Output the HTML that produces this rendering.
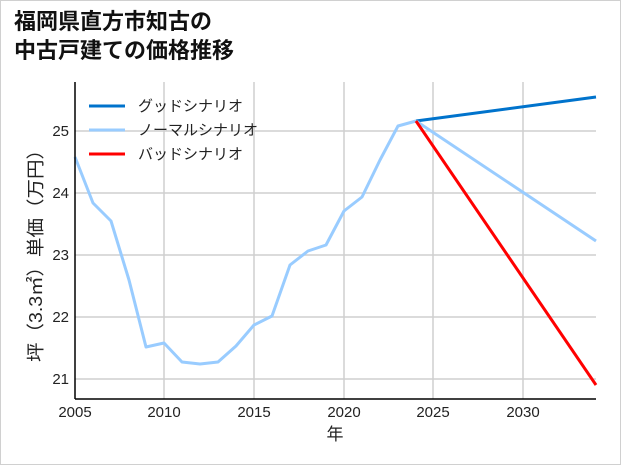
<!DOCTYPE html>
<html><head><meta charset="utf-8"><style>
body{margin:0;background:#fff;}
svg{display:block;font-family:"Liberation Sans","Noto Sans CJK JP",sans-serif;}
</style></head><body>
<svg width="621" height="465" viewBox="0 0 621 465" xmlns="http://www.w3.org/2000/svg">
<rect x="0.5" y="0.5" width="620" height="464" fill="#fff" stroke="#d0d0d0" stroke-width="1"/>
<text x="14" y="29" font-size="22" font-weight="bold" fill="#111">福岡県直方市知古の</text>
<text x="14" y="58" font-size="22" font-weight="bold" fill="#111">中古戸建ての価格推移</text>
<g stroke="#cfcfcf" stroke-width="1.5">
<line x1="164" y1="82" x2="164" y2="399"/><line x1="254" y1="82" x2="254" y2="399"/>
<line x1="344" y1="82" x2="344" y2="399"/><line x1="433" y1="82" x2="433" y2="399"/>
<line x1="523" y1="82" x2="523" y2="399"/>
<line x1="75" y1="131" x2="596" y2="131"/><line x1="75" y1="193" x2="596" y2="193"/>
<line x1="75" y1="255" x2="596" y2="255"/><line x1="75" y1="317" x2="596" y2="317"/>
<line x1="75" y1="379" x2="596" y2="379"/>
</g>
<polyline fill="none" stroke="#99ccff" stroke-width="3" stroke-linejoin="round" points="75,157 93,203 111,221 129,280 146,347 164,343 182,362 200,364 218,362 236,346 254,325 272,316 290,265 308,251 326,245 344,211 362,197 380,160 398,126 416,121"/>
<line x1="416" y1="121" x2="596" y2="97" stroke="#0073cc" stroke-width="3"/>
<line x1="416" y1="121" x2="596" y2="241" stroke="#99ccff" stroke-width="3"/>
<line x1="416" y1="121" x2="596" y2="385" stroke="#ff0000" stroke-width="3"/>
<line x1="75" y1="82" x2="75" y2="399" stroke="#000" stroke-width="1.5"/>
<line x1="75" y1="399" x2="596" y2="399" stroke="#000" stroke-width="1.5"/>
<g font-size="15" fill="#222" text-anchor="end">
<text x="69" y="136">25</text><text x="69" y="198">24</text><text x="69" y="260">23</text>
<text x="69" y="322">22</text><text x="69" y="384">21</text>
</g>
<g font-size="15" fill="#222" text-anchor="middle">
<text x="75" y="417">2005</text><text x="164" y="417">2010</text><text x="254" y="417">2015</text>
<text x="344" y="417">2020</text><text x="433" y="417">2025</text><text x="523" y="417">2030</text>
<text x="335" y="440" font-size="17">年</text>
</g>
<text transform="translate(42,251) rotate(-90)" font-size="18" fill="#222" text-anchor="middle" textLength="222" lengthAdjust="spacingAndGlyphs">坪（3.3㎡）単価（万円）</text>
<g font-size="15" fill="#222">
<line x1="89" y1="106" x2="125" y2="106" stroke="#0073cc" stroke-width="3"/>
<text x="138" y="111">グッドシナリオ</text>
<line x1="89" y1="130" x2="125" y2="130" stroke="#99ccff" stroke-width="3"/>
<text x="138" y="135">ノーマルシナリオ</text>
<line x1="89" y1="154" x2="125" y2="154" stroke="#ff0000" stroke-width="3"/>
<text x="138" y="159">バッドシナリオ</text>
</g>
</svg>
</body></html>
